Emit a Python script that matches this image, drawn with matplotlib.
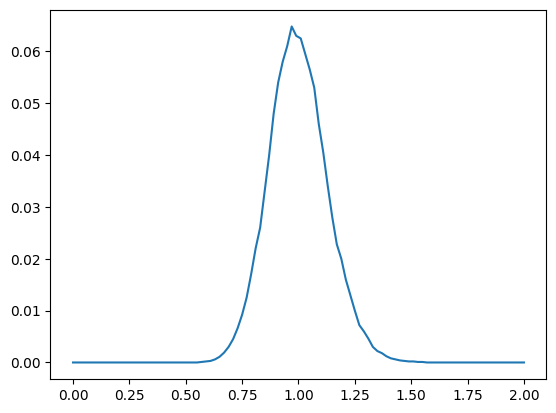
import numpy as np
import matplotlib
matplotlib.use("Agg")
import matplotlib.pyplot as plt

# flat tails at both ends, detailed part of the peak in between
x_left = [0.0]
x_right = [1.57, 2.0]
x_mid = np.round(np.arange(0.55, 1.5501, 0.02), 2)
y_mid = [
    0.0000, 0.0001, 0.0002, 0.0003, 0.0006, 0.0011, 0.0019, 0.0030, 0.0045, 0.0066,
    0.0092, 0.0125, 0.0170, 0.0220, 0.0260, 0.0330, 0.0400, 0.0480, 0.0540, 0.0580,
    0.0610, 0.0648, 0.0630, 0.0625, 0.0595, 0.0565, 0.0530, 0.0460, 0.0405, 0.0340,
    0.0280, 0.0228, 0.0200, 0.0160, 0.0130, 0.0100, 0.0072, 0.0060, 0.0046, 0.0030,
    0.0022, 0.0018, 0.0012, 0.0008, 0.0006, 0.0004, 0.0003, 0.0002, 0.0002, 0.0001,
    0.0001,
]

x = np.concatenate([x_left, x_mid, x_right])
y = np.concatenate([[0.0], y_mid, [0.0, 0.0]])

plt.figure(figsize=(6.4, 4.8))
plt.plot(x, y)
plt.savefig("out.png", dpi=100, bbox_inches="tight")
plt.close()
